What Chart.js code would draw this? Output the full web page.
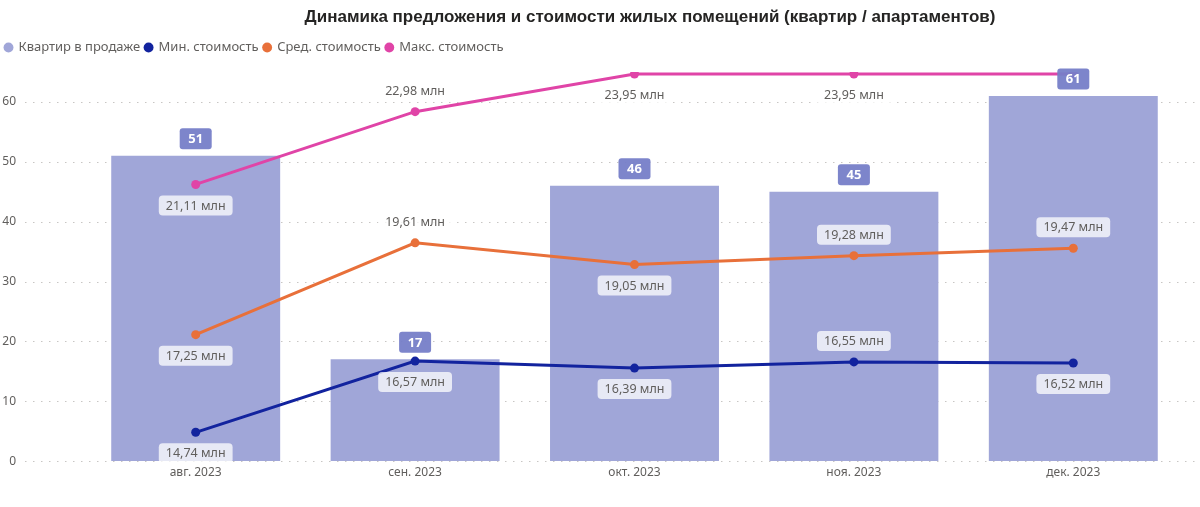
<!DOCTYPE html>
<html>
<head>
<meta charset="utf-8">
<script src="https://cdn.jsdelivr.net/npm/chart.js@4.4.1/dist/chart.umd.min.js"></script>
<style>
  html, body { margin: 0; padding: 0; background: #fff; overflow: hidden; }
  canvas { display: block; }
</style>
</head>
<body>
<canvas id="chart" width="1200" height="507"></canvas>
<script>
const months = ['авг. 2023', 'сен. 2023', 'окт. 2023', 'ноя. 2023', 'дек. 2023'];
const flatsForSale = [51, 17, 46, 45, 61];
const minPrice = [14.74, 16.57, 16.39, 16.55, 16.52];
const avgPrice = [17.25, 19.61, 19.05, 19.28, 19.47];
const maxPrice = [21.11, 22.98, 23.95, 23.95, 23.95];
const yTicks = [0, 10, 20, 30, 40, 50, 60];

// where each price label sits relative to its point
const minLabelPos = ['below', 'below', 'below', 'above', 'below'];
const avgLabelPos = ['below', 'above', 'below', 'above', 'above'];
const maxLabelPos = ['below', 'above', 'below', 'below', 'none'];

const GREY = '#605E5C';
const FONT = '"Noto Sans", "Open Sans", sans-serif';
const fmt = v => v.toFixed(2).replace('.', ',') + ' млн';

const titlePlugin = {
  id: 'titleText',
  afterDraw(chart) {
    const ctx = chart.ctx;
    ctx.save();
    ctx.font = 'bold 17px "Liberation Sans", Arial, sans-serif';
    ctx.fillStyle = '#252423';
    ctx.textAlign = 'center';
    ctx.textBaseline = 'middle';
    ctx.fillText('Динамика предложения и стоимости жилых помещений (квартир / апартаментов)', 650, 17);
    ctx.restore();
  }
};

const legendGap = {
  id: 'legendGap',
  beforeInit(chart) {
    const lg = chart.legend;
    if (lg) {
      const f = lg.fit;
      lg.fit = function () { f.call(this); this.height += 8; };
    }
  }
};

const gridPlugin = {
  id: 'dotGrid',
  beforeDatasetsDraw(chart) {
    const ctx = chart.ctx, y = chart.scales.y;
    ctx.save();
    ctx.strokeStyle = '#C8C6C4';
    ctx.lineWidth = 1;
    ctx.setLineDash([1.5, 6.5]);
    y.ticks.forEach(t => {
      const py = Math.round(y.getPixelForValue(t.value)) + 0.5;
      ctx.beginPath();
      ctx.moveTo(25, py);
      ctx.lineTo(1198, py);
      ctx.stroke();
    });
    ctx.restore();
  }
};

const labelPlugin = {
  id: 'valueLabels',
  afterDatasetsDraw(chart) {
    const ctx = chart.ctx;
    ctx.save();
    ctx.textAlign = 'center';
    ctx.textBaseline = 'middle';
    // bar labels
    chart.getDatasetMeta(0).data.forEach((el, i) => {
      const cy = el.y - 17;
      ctx.fillStyle = 'rgba(118,126,200,0.95)';
      ctx.beginPath();
      ctx.roundRect(el.x - 16, cy - 10.5, 32, 21, 3);
      ctx.fill();
      ctx.fillStyle = '#fff';
      ctx.font = 'bold 13px ' + FONT;
      ctx.fillText(String(flatsForSale[i]), el.x, cy + 0.5);
    });
    // price labels
    const sets = [[1, minPrice, minLabelPos], [2, avgPrice, avgLabelPos], [3, maxPrice, maxLabelPos]];
    ctx.font = '12.5px ' + FONT;
    sets.forEach(([di, vals, pos]) => {
      chart.getDatasetMeta(di).data.forEach((el, i) => {
        if (pos[i] === 'none') return;
        const cy = el.y + (pos[i] === 'above' ? -21 : 21);
        const txt = fmt(vals[i]);
        const w = ctx.measureText(txt).width + 14;
        ctx.fillStyle = 'rgba(255,255,255,0.75)';
        ctx.beginPath();
        ctx.roundRect(el.x - w / 2, cy - 10, w, 20, 4);
        ctx.fill();
        ctx.fillStyle = GREY;
        ctx.fillText(txt, el.x, cy + 0.5);
      });
    });
    ctx.restore();
  }
};

const lineDs = (label, data, color) => ({
  type: 'line', label, data, yAxisID: 'y1', order: 0,
  borderColor: color, backgroundColor: color, borderWidth: 3,
  pointRadius: 4.5, pointHoverRadius: 4.5, pointBackgroundColor: color, pointBorderWidth: 0,
  tension: 0
});

new Chart(document.getElementById('chart'), {
  data: {
    labels: months,
    datasets: [
      { type: 'bar', label: 'Квартир в продаже', data: flatsForSale, yAxisID: 'y', order: 1,
        backgroundColor: '#A0A6D8', barPercentage: 0.77, categoryPercentage: 1 },
      lineDs('Мин. стоимость', minPrice, '#12239E'),
      lineDs('Сред. стоимость', avgPrice, '#E8703A'),
      lineDs('Макс. стоимость', maxPrice, '#E044A7')
    ]
  },
  options: {
    responsive: false,
    animation: false,
    devicePixelRatio: 1,
    layout: { padding: { top: 36, left: 0, right: 17, bottom: 23.5 } },
    plugins: {
      title: { display: false },
      tooltip: { enabled: false },
      legend: {
        position: 'top', align: 'start',
        labels: {
          usePointStyle: true, pointStyle: 'circle', boxWidth: 7, boxHeight: 7,
          padding: 5, color: GREY, font: { family: FONT, size: 13 },
          sort: (a, b) => a.datasetIndex - b.datasetIndex
        }
      }
    },
    scales: {
      x: {
        grid: { display: false, drawTicks: false }, border: { display: false },
        ticks: { color: GREY, font: { family: FONT, size: 12 }, padding: 4 }
      },
      y: {
        position: 'left', min: 0, max: 65,
        afterBuildTicks(s) { s.ticks = yTicks.map(v => ({ value: v })); },
        grid: { display: false, drawTicks: false }, border: { display: false },
        ticks: { color: GREY, font: { family: FONT, size: 12 }, padding: 70 },
        afterFit(s) { s.width = 86; s.paddingTop = 0; s.paddingBottom = 0; }
      },
      y1: { position: 'right', display: false, min: 14, max: 24 }
    }
  },
  plugins: [titlePlugin, legendGap, gridPlugin, labelPlugin]
});
</script>
</body>
</html>
